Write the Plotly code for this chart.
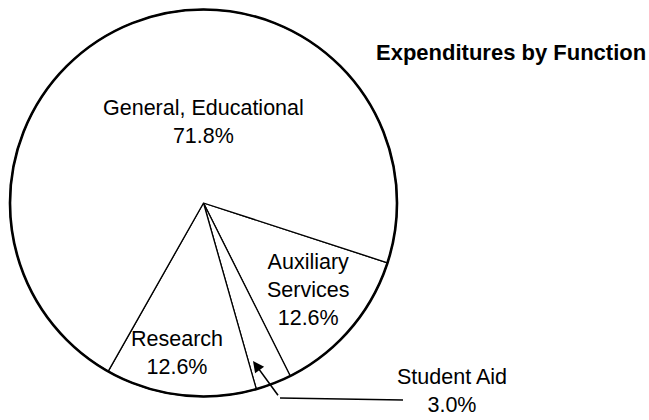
import plotly.graph_objects as go

# shares as printed on the chart, clockwise from the right-hand side
labels = ["Auxiliary Services", "Student Aid", "Research", "General, Educational"]
shares = [12.6, 3.0, 12.6, 71.8]
label_lines = [["Auxiliary", "Services"], ["Student Aid"], ["Research"], ["General, Educational"]]

W, H = 649, 420
FONT = "Liberation Sans, Arial, sans-serif"


def px(x, y):
    # pixel position -> paper coords
    return x / W, 1 - y / H


pie_domain = dict(x=[10 / W, 397 / W], y=[1 - 397 / H, 1 - 9 / H])

fig = go.Figure()

# slices with thin dividing lines
fig.add_trace(go.Pie(
    labels=labels, values=shares, sort=False, direction="clockwise",
    rotation=108, domain=pie_domain, textinfo="none", hoverinfo="label+value",
    marker=dict(colors=["white"] * 4, line=dict(color="black", width=1.3)),
    showlegend=False))

# heavier outer rim
fig.add_trace(go.Pie(
    values=[1], sort=False, domain=pie_domain, textinfo="none", hoverinfo="skip",
    marker=dict(colors=["rgba(0,0,0,0)"], line=dict(color="black", width=2.6)),
    showlegend=False))

# centre (pixels) of each label block
label_pos = {
    "General, Educational": (203, 122),
    "Auxiliary Services": (308, 290),
    "Research": (177, 353),
    "Student Aid": (452, 391),
}

annotations = []
for name, val, lines in zip(labels, shares, label_lines):
    text = "<br>".join(lines + [f"{val:.1f}%"])
    xp, yp = px(*label_pos[name])
    annotations.append(dict(x=xp, y=yp, xref="paper", yref="paper", text=text,
                            showarrow=False, xanchor="center", yanchor="middle",
                            align="center",
                            font=dict(family=FONT, size=21.5, color="black")))

# arrow pointing into the Student Aid slice
tip = px(253, 361)
annotations.append(dict(x=tip[0], y=tip[1], xref="paper", yref="paper", text=" ",
                        showarrow=True, ax=27, ay=37, arrowhead=2, arrowsize=1.4,
                        arrowwidth=1.6, arrowcolor="black", standoff=0, startstandoff=0,
                        font=dict(size=2)))

tx, ty = px(510.5, 52.5)
annotations.append(dict(x=tx, y=ty, xref="paper", yref="paper",
                        text="<b>Expenditures by Function</b>", showarrow=False,
                        xanchor="center", yanchor="middle",
                        font=dict(family=FONT, size=22, color="black")))

x0, y0 = px(280, 398)
x1, y1 = px(403, 400)
fig.add_shape(type="line", xref="paper", yref="paper", x0=x0, y0=y0, x1=x1, y1=y1,
              line=dict(color="black", width=1.6))

fig.update_layout(width=W, height=H, margin=dict(l=0, r=0, t=0, b=0),
                  paper_bgcolor="white", plot_bgcolor="white",
                  annotations=annotations, showlegend=False)

# drop the browser's default body margin so the figure sits at the page corner
fig.write_html("out.html", config={"displayModeBar": False},
               post_script="document.body.style.margin='0';")
